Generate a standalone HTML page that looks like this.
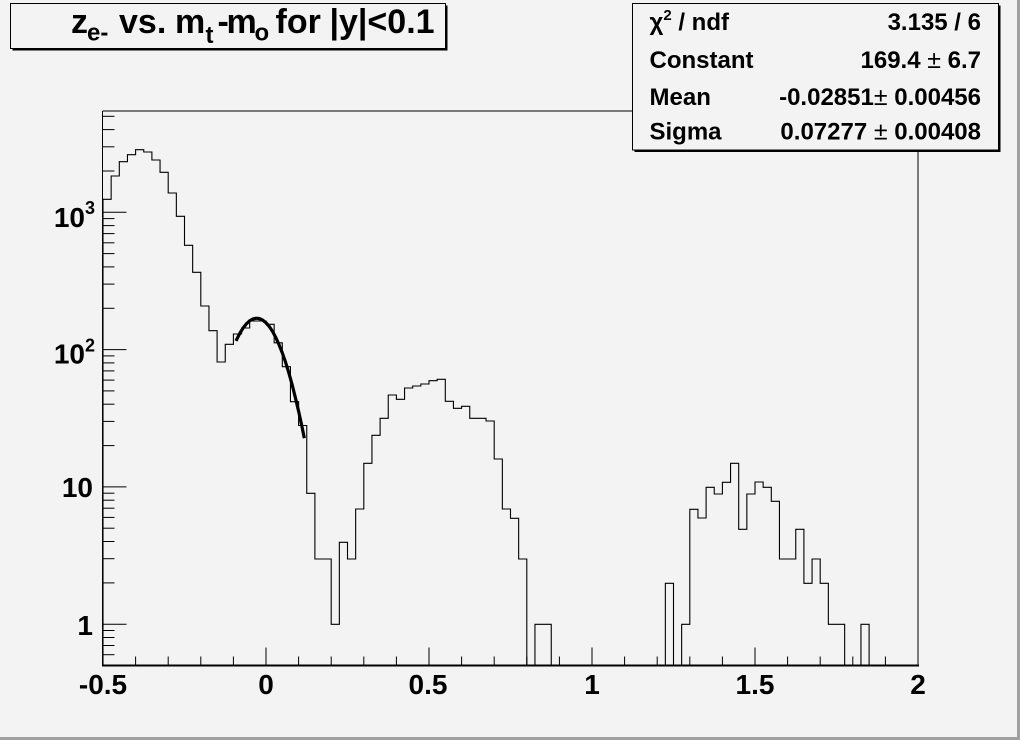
<!DOCTYPE html>
<html><head><meta charset="utf-8"><style>
html,body{margin:0;padding:0;background:#f3f3f3;}
svg{display:block;}
text{font-family:"Liberation Sans",Arial,Helvetica,sans-serif;font-weight:bold;fill:#000;}
</style></head><body>
<svg width="1020" height="740" viewBox="0 0 1020 740" xmlns="http://www.w3.org/2000/svg">
<rect x="0" y="0" width="1020" height="740" fill="#f3f3f3"/>
<rect x="1017" y="0" width="3" height="740" fill="#a0a0a0"/>
<rect x="0" y="737" width="1020" height="3" fill="#a0a0a0"/>

<!-- frame -->
<g stroke="#000" fill="none" stroke-width="1">
<line x1="102.5" y1="111" x2="918" y2="111"/>
<line x1="918" y1="111" x2="918" y2="666"/>
<line x1="102.5" y1="111" x2="102.5" y2="666"/>
</g>
<line x1="102" y1="665.5" x2="919" y2="665.5" stroke="#000" stroke-width="2"/>

<!-- y ticks -->
<g stroke="#000" stroke-width="1">
<line x1="102.5" y1="624.2" x2="126.5" y2="624.2"/>
<line x1="102.5" y1="486.9" x2="126.5" y2="486.9"/>
<line x1="102.5" y1="349.6" x2="126.5" y2="349.6"/>
<line x1="102.5" y1="212.3" x2="126.5" y2="212.3"/>
<line x1="102.5" y1="654.7" x2="114.5" y2="654.7"/>
<line x1="102.5" y1="645.5" x2="114.5" y2="645.5"/>
<line x1="102.5" y1="637.5" x2="114.5" y2="637.5"/>
<line x1="102.5" y1="630.5" x2="114.5" y2="630.5"/>
<line x1="102.5" y1="582.9" x2="114.5" y2="582.9"/>
<line x1="102.5" y1="558.7" x2="114.5" y2="558.7"/>
<line x1="102.5" y1="541.5" x2="114.5" y2="541.5"/>
<line x1="102.5" y1="528.2" x2="114.5" y2="528.2"/>
<line x1="102.5" y1="517.4" x2="114.5" y2="517.4"/>
<line x1="102.5" y1="508.2" x2="114.5" y2="508.2"/>
<line x1="102.5" y1="500.2" x2="114.5" y2="500.2"/>
<line x1="102.5" y1="493.2" x2="114.5" y2="493.2"/>
<line x1="102.5" y1="445.6" x2="114.5" y2="445.6"/>
<line x1="102.5" y1="421.4" x2="114.5" y2="421.4"/>
<line x1="102.5" y1="404.2" x2="114.5" y2="404.2"/>
<line x1="102.5" y1="390.9" x2="114.5" y2="390.9"/>
<line x1="102.5" y1="380.1" x2="114.5" y2="380.1"/>
<line x1="102.5" y1="370.9" x2="114.5" y2="370.9"/>
<line x1="102.5" y1="362.9" x2="114.5" y2="362.9"/>
<line x1="102.5" y1="355.9" x2="114.5" y2="355.9"/>
<line x1="102.5" y1="308.3" x2="114.5" y2="308.3"/>
<line x1="102.5" y1="284.1" x2="114.5" y2="284.1"/>
<line x1="102.5" y1="266.9" x2="114.5" y2="266.9"/>
<line x1="102.5" y1="253.6" x2="114.5" y2="253.6"/>
<line x1="102.5" y1="242.8" x2="114.5" y2="242.8"/>
<line x1="102.5" y1="233.6" x2="114.5" y2="233.6"/>
<line x1="102.5" y1="225.6" x2="114.5" y2="225.6"/>
<line x1="102.5" y1="218.6" x2="114.5" y2="218.6"/>
<line x1="102.5" y1="171.0" x2="114.5" y2="171.0"/>
<line x1="102.5" y1="146.8" x2="114.5" y2="146.8"/>
<line x1="102.5" y1="129.6" x2="114.5" y2="129.6"/>
<line x1="102.5" y1="116.3" x2="114.5" y2="116.3"/>
</g>

<!-- x ticks -->
<g stroke="#000" stroke-width="1">
<line x1="103" y1="665" x2="103" y2="647.5"/>
<line x1="266" y1="665" x2="266" y2="647.5"/>
<line x1="429" y1="665" x2="429" y2="647.5"/>
<line x1="592" y1="665" x2="592" y2="647.5"/>
<line x1="755" y1="665" x2="755" y2="647.5"/>
<line x1="918" y1="665" x2="918" y2="647.5"/>
<line x1="135.6" y1="665" x2="135.6" y2="656.5"/>
<line x1="168.2" y1="665" x2="168.2" y2="656.5"/>
<line x1="200.8" y1="665" x2="200.8" y2="656.5"/>
<line x1="233.4" y1="665" x2="233.4" y2="656.5"/>
<line x1="298.6" y1="665" x2="298.6" y2="656.5"/>
<line x1="331.2" y1="665" x2="331.2" y2="656.5"/>
<line x1="363.8" y1="665" x2="363.8" y2="656.5"/>
<line x1="396.4" y1="665" x2="396.4" y2="656.5"/>
<line x1="461.6" y1="665" x2="461.6" y2="656.5"/>
<line x1="494.2" y1="665" x2="494.2" y2="656.5"/>
<line x1="526.8" y1="665" x2="526.8" y2="656.5"/>
<line x1="559.4" y1="665" x2="559.4" y2="656.5"/>
<line x1="624.6" y1="665" x2="624.6" y2="656.5"/>
<line x1="657.2" y1="665" x2="657.2" y2="656.5"/>
<line x1="689.8" y1="665" x2="689.8" y2="656.5"/>
<line x1="722.4" y1="665" x2="722.4" y2="656.5"/>
<line x1="787.6" y1="665" x2="787.6" y2="656.5"/>
<line x1="820.2" y1="665" x2="820.2" y2="656.5"/>
<line x1="852.8" y1="665" x2="852.8" y2="656.5"/>
<line x1="885.4" y1="665" x2="885.4" y2="656.5"/>
</g>

<!-- histogram -->
<path fill="none" stroke="#000" stroke-width="1.1" d="M103,665.5
V199.3 h8.15 V176 h8.15 V161.7 h8.15 V154.7 h8.15 V149.7 h8.15 V152 h8.15 V160 h8.15 V172.3 h8.15 V193 h8.15 V216.3 h8.15
V245.3 h8.15 V272.3 h8.15 V306 h8.15 V330.7 h8.15 V362 h8.15 V344.3 h8.15 V334 h8.15 V328 h8.15 V321 h8.15 V321 h8.15
V324.3 h8.15 V342.8 h8.15 V366.7 h8.15 V401.7 h8.15 V425.5 h8.15 V493.3 h8.15 V559 h16.3 V624.3 h8.15 V542.3 h8.15
V559 h8.15 V509 h8.15 V463.3 h8.15 V435.3 h8.15 V418.3 h8.15 V395 h8.15 V399.3 h8.15 V388 h8.15 V386 h8.15 V384 h8.15
V380.7 h8.15 V379.3 h8.15 V401.3 h8.15 V408.3 h8.15 V406.3 h8.15 V418.3 h16.3 V421 h8.15 V459 h8.15 V509 h8.15
V518.3 h8.15 V559 h8.15 V665.5 h8.15 V624.3 h16.3 V665.5 h114.1 V583.3 h8.15 V665.5 h8.15 V624.3 h8.15
V509.3 h8.15 V518 h8.15 V487.3 h8.15 V494 h8.15 V482.3 h8.15 V463.3 h8.15 V529.3 h8.15 V494 h8.15 V482 h8.15
V487.3 h8.15 V501.3 h8.15 V559 h16.3 V529.3 h8.15 V583.3 h8.15 V559 h8.15 V583.3 h8.15 V624.3 h16.3
V665.5 h16.3 V624.3 h8.15 V665.5 h48.9"/>

<!-- fit -->
<polyline fill="none" stroke="#000" stroke-width="3.2" stroke-linejoin="round" points="
236.0,340.9 239.9,333.1 243.2,327.9 246.4,323.8 249.7,320.8 253.0,318.9 256.2,318.2 259.5,318.6 262.7,320.1 266.0,322.8
269.3,326.5 272.5,331.4 275.8,337.5 279.0,344.6 282.3,352.9 285.6,362.3 288.8,372.8 292.1,384.5 295.3,397.3 298.6,411.2
301.9,426.2 304.3,438.2"/>

<!-- y labels -->
<text x="93" y="635" font-size="28" text-anchor="end">1</text>
<text x="93" y="497" font-size="28" text-anchor="end">10</text>
<text x="95" y="363.5" font-size="28" text-anchor="end">10<tspan font-size="18" dy="-12">2</tspan></text>
<text x="95" y="227" font-size="28" text-anchor="end">10<tspan font-size="18" dy="-13">3</tspan></text>

<!-- x labels -->
<text x="103" y="694" font-size="28" text-anchor="middle">-0.5</text>
<text x="266" y="694" font-size="28" text-anchor="middle">0</text>
<text x="428" y="694" font-size="28" text-anchor="middle">0.5</text>
<text x="592" y="694" font-size="28" text-anchor="middle">1</text>
<text x="755" y="694" font-size="28" text-anchor="middle">1.5</text>
<text x="918" y="694" font-size="28" text-anchor="middle">2</text>

<!-- title box -->
<rect x="12.5" y="5.5" width="435" height="45" fill="#000"/>
<rect x="10.5" y="3.5" width="435" height="45" fill="#f3f3f3" stroke="#000" stroke-width="1"/>
<text x="71" y="33" font-size="34">z</text>
<text x="87" y="40.5" font-size="24">e-</text>
<text x="119" y="33" font-size="34">vs.</text>
<text x="175" y="33" font-size="34">m</text>
<text x="205.5" y="43" font-size="24">t</text>
<text x="217.5" y="33" font-size="34">-</text>
<text x="226.5" y="33" font-size="34">m</text>
<text x="254.5" y="40.5" font-size="24">o</text>
<text x="275.5" y="33" font-size="34">for</text>
<text x="329.5" y="33" font-size="34">|y|&lt;0.1</text>

<!-- stats box -->
<rect x="634.5" y="5.5" width="366" height="146.5" fill="#000"/>
<rect x="632.5" y="3.5" width="366" height="146.5" fill="#f3f3f3" stroke="#000" stroke-width="1"/>
<text x="649.5" y="30" font-size="24">χ<tspan font-size="15" dy="-10">2</tspan><tspan dy="10"> / ndf</tspan></text>
<text x="649.5" y="68" font-size="24">Constant</text>
<text x="649.5" y="105" font-size="24">Mean</text>
<text x="649.5" y="139.5" font-size="24">Sigma</text>
<text x="981" y="30" font-size="24" text-anchor="end">3.135 / 6</text>
<text x="981" y="68" font-size="24" text-anchor="end">169.4 <tspan font-weight="normal" font-size="25">±</tspan> 6.7</text>
<text x="981" y="105" font-size="24" text-anchor="end">-0.02851<tspan font-weight="normal" font-size="25">±</tspan> 0.00456</text>
<text x="981" y="139.5" font-size="24" text-anchor="end">0.07277 <tspan font-weight="normal" font-size="25">±</tspan> 0.00408</text>
</svg>
</body></html>
